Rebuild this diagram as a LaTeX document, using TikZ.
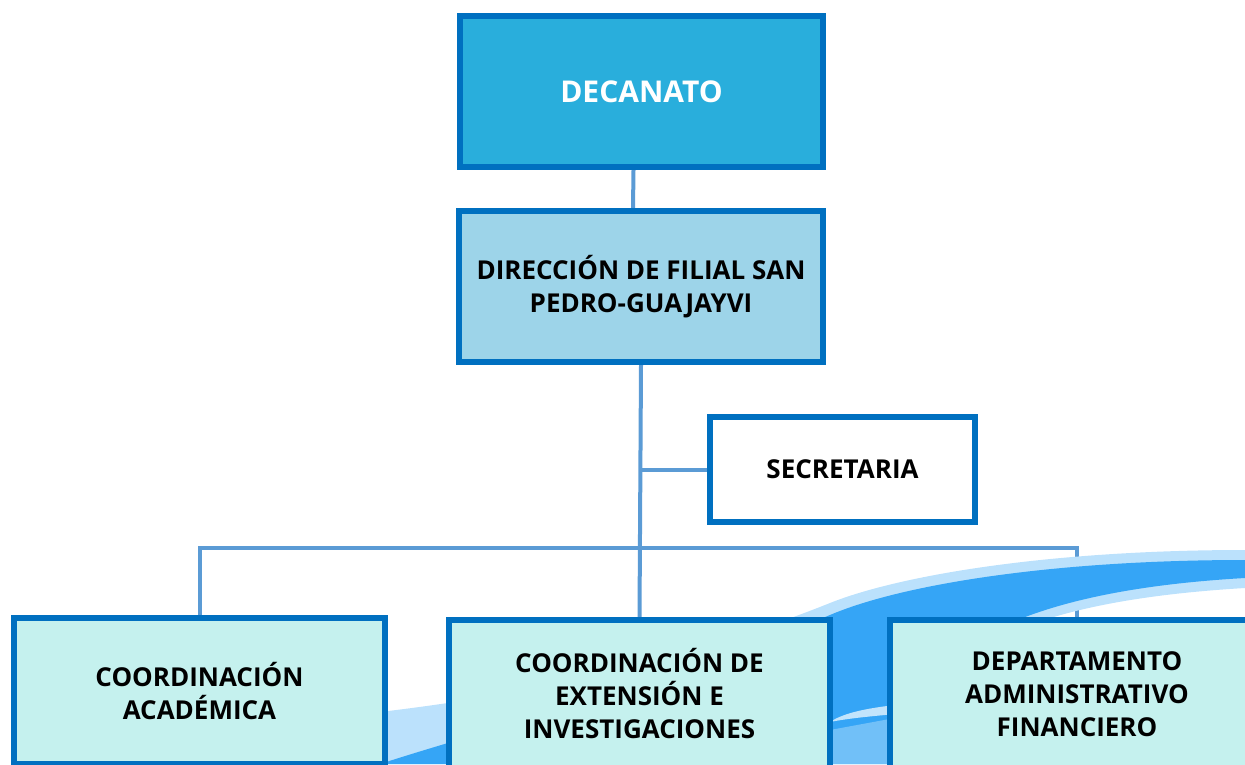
\documentclass[tikz,border=0pt]{standalone}
\usepackage{fontspec}
\setmainfont{Open Sans}
\usetikzlibrary{positioning,backgrounds}

\definecolor{borde}{HTML}{0070C0}
\definecolor{linea}{HTML}{5B9BD5}
\definecolor{azul}{HTML}{29AEDC}
\definecolor{celeste}{HTML}{9DD4E9}
\definecolor{agua}{HTML}{C5F1EE}
\definecolor{ola}{HTML}{1E9BF5}

\begin{document}
\begin{tikzpicture}[
  x=1pt,y=-1pt,
  caja/.style={draw=borde,line width=6pt,align=center,
    font=\fontsize{26}{33}\selectfont\bfseries,inner sep=0pt},
  conector/.style={draw=linea,line width=4pt}
  ]

  \useasboundingbox (0,0) rectangle (1245,764);
  \clip (0,0) rectangle (1245,764);

  % fondo
  \fill[ola!30]
    (1245,550) .. controls (1050,550) and (900,575) .. (830,603)
    .. controls (650,675) and (480,700) .. (380,712)
    -- (380,764) -- (905,764)
    .. controls (915,660) and (1010,602) .. (1245,588) -- cycle;
  \fill[ola!90]
    (1245,560) .. controls (1050,560) and (900,585) .. (830,615)
    .. controls (650,690) and (500,725) .. (380,764)
    -- (890,764) .. controls (905,660) and (1000,592) .. (1245,578) -- cycle;
  \fill[white,opacity=0.7]
    (895,705) .. controls (870,708) and (845,712) .. (830,722)
    .. controls (850,718) and (875,716) .. (895,714) -- cycle;
  \fill[white,opacity=0.3]
    (895,718) -- (830,730) -- (830,764) -- (895,764) -- cycle;

  \node[caja,fill=azul,text=white,minimum width=363,minimum height=151,
    font=\fontsize{30}{36}\selectfont\bfseries]
    (deca) at (641.5,91.5) {DECANATO};
  \node[caja,fill=celeste,minimum width=364,minimum height=151]
    (dir) at (641,286.5) {DIRECCIÓN DE FILIAL SAN\\PEDRO-GUAJAYVI};
  \node[caja,fill=white,minimum width=265,minimum height=105]
    (sec) at (842.5,469.5) {SECRETARIA};

  \node[caja,fill=agua,minimum width=371,minimum height=146]
    (acad) at (199.5,691) {COORDINACIÓN\\ACADÉMICA};
  \node[caja,fill=agua,minimum width=381,minimum height=148]
    (ext) at (639.5,694) {COORDINACIÓN DE\\EXTENSIÓN E\\INVESTIGACIONES};
  \node[caja,fill=agua,minimum width=374,minimum height=148]
    (dept) at (1077,694) {DEPARTAMENTO\\ADMINISTRATIVO\\FINANCIERO};

  \coordinate (bus) at (641,548);

  \begin{scope}[on background layer]
    \draw[conector] ([xshift=-8pt]deca.south) -- ([xshift=-8pt]dir.north);
    \draw[conector] (dir.south) -- (ext.north);
    \draw[conector] (dir.south |- sec.west) -- (sec.west);
    \draw[conector] (acad.north) |- (bus) -| (dept.north);
  \end{scope}

\end{tikzpicture}
\end{document}
